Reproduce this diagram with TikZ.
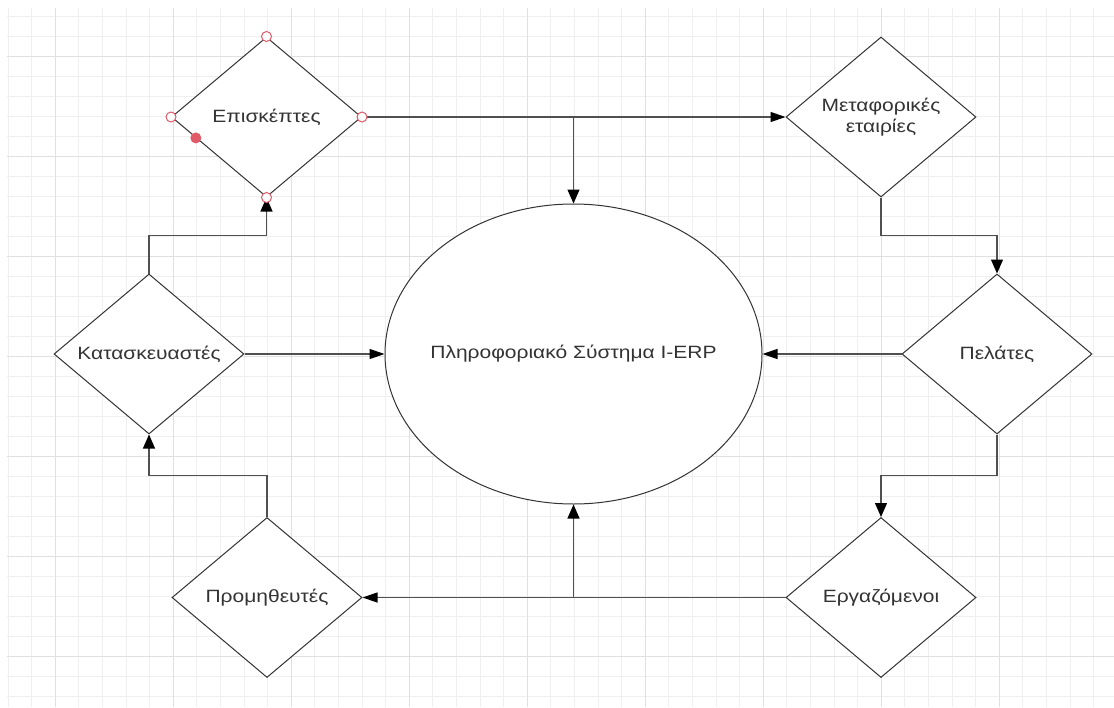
\documentclass[tikz,border=0pt]{standalone}
\usepackage{fontspec}
\setmainfont{Liberation Sans}[FakeStretch=1.18]
\usetikzlibrary{shapes.geometric,arrows.meta,calc}

\definecolor{gridminor}{HTML}{EFEFEF}
\definecolor{gridmajor}{HTML}{E0E0E0}
\definecolor{edge}{HTML}{505050}
\definecolor{outline}{HTML}{333333}
\definecolor{txt}{HTML}{333333}
\definecolor{handle}{HTML}{E05A68}

\tikzset{
  decision/.style={shape=diamond, draw=outline, line width=1pt, fill=white,
    minimum width=190pt, minimum height=160pt, inner sep=0pt, aspect=1,
    text=txt, font=\fontsize{17.8}{21}\selectfont, align=center},
  system/.style={shape=ellipse, draw=outline, line width=1pt, fill=white,
    minimum width=377pt, minimum height=300pt, inner sep=0pt,
    text=txt, font=\fontsize{17.8}{21}\selectfont},
  flow/.style={draw=edge, line width=1.2pt},
  harrow/.style={flow, -{Triangle[length=15pt,width=10pt,color=black]}},
  varrow/.style={flow, -{Triangle[length=14pt,width=12pt,color=black]}},
  hollowhandle/.style={circle, draw=handle, line width=1pt, fill=white,
    minimum size=10pt, inner sep=0pt},
  solidhandle/.style={circle, fill=handle, minimum size=11pt, inner sep=0pt},
}

\begin{document}
\begin{tikzpicture}[x=1pt, y=-1pt]
  \useasboundingbox (0,0) rectangle (1114,707);
  \fill[white] (0,0) rectangle (1114,707);

  % background grid
  \foreach \i in {0,...,46}
    \draw[gridminor, line width=1pt] ({8.1+23.6*\i},8) -- ({8.1+23.6*\i},707);
  \foreach \j in {0,...,34}
    \draw[gridminor, line width=1pt] (7,{16.7+20*\j}) -- (1114,{16.7+20*\j});
  \foreach \i in {0,...,8}
    \draw[gridmajor, line width=1pt] ({55.3+118*\i},8) -- ({55.3+118*\i},707);
  \foreach \j in {0,...,6}
    \draw[gridmajor, line width=1pt] (7,{56.7+100*\j}) -- (1114,{56.7+100*\j});

  % shapes
  \node[system]   (erp)   at (573.5,354) {\makebox[0pt]{Πληροφοριακό Σύστημα I-ERP}};
  \node[decision] (visit) at (266.5,117) {Επισκέπτες};
  \node[decision] (trans) at (881,117)   {Μεταφορικές\\εταιρίες};
  \node[decision] (cust)  at (997,354)   {Πελάτες};
  \node[decision] (emp)   at (881,597.5) {Εργαζόμενοι};
  \node[decision] (supp)  at (267,597.5) {Προμηθευτές};
  \node[decision] (manu)  at (149,354)   {Κατασκευαστές};

  % junctions on the long horizontal runs
  \coordinate (jtop) at (erp.north |- visit.east);
  \coordinate (jbot) at (erp.south |- emp.west);
  \coordinate (m1) at ($(trans.south)!0.5!(cust.north)$);
  \coordinate (m2) at ($(cust.south)!0.5!(emp.north)$);
  \coordinate (m3) at ($(supp.north)!0.5!(manu.south)$);
  \coordinate (m4) at ($(manu.north)!0.5!(visit.south)$);

  % connectors
  \draw[harrow] (visit.east) -- (trans.west);
  \draw[varrow] (jtop) -- (erp.north);
  \draw[varrow] (trans.south) -- (trans.south |- m1) -| (cust.north);
  \draw[harrow] (cust.west) -- (erp.east);
  \draw[varrow] (cust.south) -- (cust.south |- m2) -| (emp.north);
  \draw[harrow] (emp.west) -- (supp.east);
  \draw[varrow] (jbot) -- (erp.south);
  \draw[varrow] (supp.north) -- (supp.north |- m3) -| (manu.south);
  \draw[harrow] (manu.east) -- (erp.west);
  \draw[varrow] (manu.north) -- (manu.north |- m4) -| (visit.south);

  % selection handles
  \node[hollowhandle] (hn) at (visit.north) {};
  \node[hollowhandle] (hw) at (visit.west) {};
  \node[hollowhandle] (he) at (visit.east) {};
  \node[hollowhandle] (hs) at (visit.south) {};
  \node[solidhandle]  (hd) at ($(visit.west)!0.26!(visit.south)$) {};
\end{tikzpicture}
\end{document}
